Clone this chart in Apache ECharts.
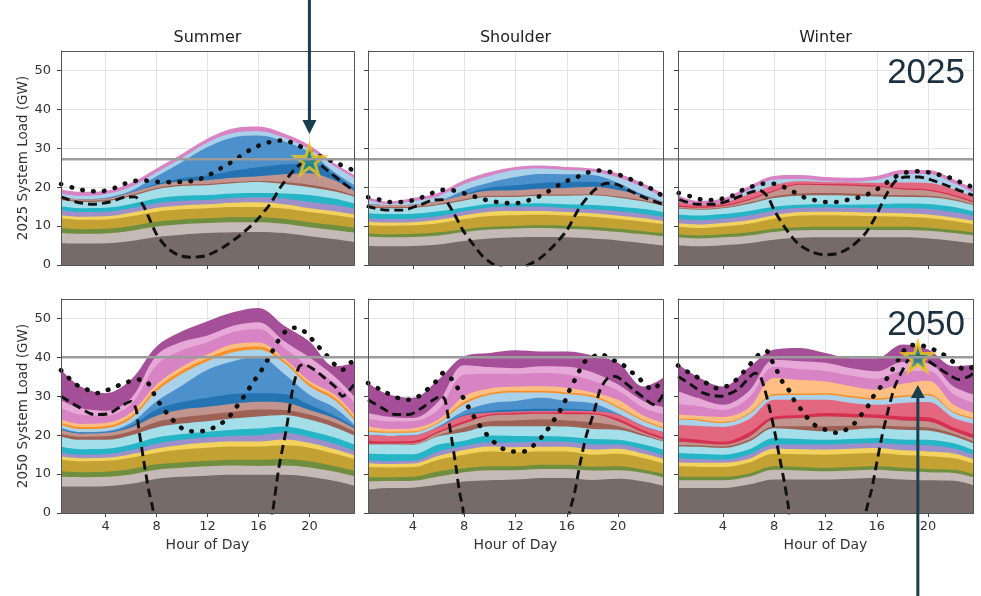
<!DOCTYPE html>
<html><head><meta charset="utf-8">
<script src="https://cdn.jsdelivr.net/npm/echarts@6/dist/echarts.min.js"></script>
<style>html,body{margin:0;padding:0;background:#fff}#c{width:981px;height:596px}</style>
</head><body><div id="c"></div>
<script>
// ---------- data ----------
const hours = [0.5, 2, 4, 6, 8, 10, 12, 14, 16, 18, 20, 22, 23.5];
const xTicks = [4, 8, 12, 16, 20];
const yTicks = [0, 10, 20, 30, 40, 50];
const seasons = ['Summer', 'Shoulder', 'Winter'];
const years = ['2025', '2050'];
const yNames = ['2025 System Load (GW)', '2050 System Load (GW)'];
const peakLevels = [27.2, 40.0];
const starPoints = [[20, 27.0], [19.2, 40.1]];
const layerNames = ['Base', 'Base 2', 'Green', 'Gold', 'Yellow', 'Purple', 'Teal', 'Light cyan', 'Brown', 'Light brown',
  'Red', 'Light red', 'Dark blue', 'Blue', 'Light blue', 'Orange', 'Light orange', 'Pink', 'Light pink', 'Magenta'];
const layerColors = ['#776b69', '#c5bab6', '#6f8f3f', '#c3a233', '#f3d35e', '#9d8fca', '#25b5c6', '#a4dfe9', '#9e6156', '#c1958d',
  '#d63150', '#e3687f', '#2474b4', '#4c91cb', '#a9d1ea', '#fb8f24', '#ffbe82', '#d883c4', '#e6a8d6', '#a64f99'];

// cumulative layer tops (GW) at each hour, bottom layer first; null = layer absent
const summer2025 = [
  [5.6,5.5,5.6,6.2,7.2,7.8,8.2,8.4,8.5,8.2,7.4,6.6,5.9],
  [8.2,8.0,8.1,8.8,9.9,10.5,10.8,11.0,11.0,10.6,9.7,8.9,8.3],
  [9.5,9.2,9.3,10.0,11.1,11.7,12.0,12.3,12.3,11.9,11.0,10.2,9.6],
  [12.0,11.6,11.7,12.5,13.7,14.3,14.6,14.9,14.9,14.5,13.6,12.8,12.1],
  [12.8,12.4,12.5,13.4,14.7,15.3,15.6,16.0,16.1,15.6,14.6,13.8,13.0],
  [14.1,13.6,13.7,14.6,15.9,16.5,16.7,17.2,17.4,17.1,16.2,15.4,14.5],
  [15.1,14.6,14.7,15.7,17.1,17.8,18.0,18.4,18.5,18.4,18.0,17.0,15.8],
  [16.7,16.2,16.4,17.7,19.5,20.3,20.5,21.0,21.3,20.8,20.0,18.9,17.6],
  [17.0,16.5,16.7,18.0,19.8,20.6,20.8,21.3,21.6,21.3,20.6,19.4,17.9],
  [17.4,16.9,17.1,18.6,20.5,21.5,21.8,22.4,22.8,23.3,23.6,21.7,19.1],
  null, null,
  [17.4,16.9,17.1,18.6,20.8,22.3,23.0,24.2,25.1,25.8,26.1,23.2,19.6],
  [17.4,16.9,17.3,19.1,22.8,26.5,30.3,32.8,33.3,31.8,29.0,23.8,20.6],
  [18.4,17.8,18.2,20.1,23.8,27.5,31.5,33.9,34.4,32.8,29.8,25.3,22.4],
  null, null,
  [19.4,18.8,19.1,21.1,24.8,28.5,32.5,35.1,35.6,33.8,30.8,26.1,23.2],
  null, null
];
const shoulder2025 = [
  [4.9,4.8,4.9,5.3,6.2,6.8,7.1,7.2,7.1,6.8,6.3,5.6,5.0],
  [7.3,7.1,7.2,7.6,8.5,9.1,9.4,9.5,9.3,9.0,8.5,7.9,7.4],
  [8.1,7.9,8.0,8.4,9.2,9.8,10.0,10.2,10.1,9.8,9.3,8.7,8.2],
  [10.3,10.1,10.2,10.7,11.8,12.6,12.8,12.9,12.7,12.4,11.8,11.1,10.5],
  [11.1,10.9,11.0,11.6,12.8,13.7,13.9,13.9,13.6,13.3,12.7,12.0,11.3],
  [12.0,11.8,11.9,12.5,13.8,14.8,15.0,15.0,14.6,14.3,13.8,13.1,12.3],
  [13.3,13.1,13.2,13.8,14.8,15.7,15.8,15.9,15.6,15.4,15.0,14.4,13.6],
  [14.8,14.6,14.7,15.4,16.6,17.5,17.5,17.8,17.8,17.9,17.3,16.3,15.2],
  [15.1,14.9,15.0,15.7,16.9,17.8,17.8,18.1,18.1,18.2,17.6,16.6,15.5],
  [15.6,15.4,15.5,16.4,18.0,19.1,19.2,19.6,19.8,20.1,19.3,17.7,16.2],
  null, null,
  [15.6,15.4,15.5,16.4,18.2,19.9,20.5,21.1,21.3,21.4,20.1,18.0,16.2],
  [15.6,15.4,15.5,16.4,19.2,21.2,22.6,23.4,23.3,23.1,21.1,18.0,16.2],
  [16.7,15.7,16.4,17.7,20.8,22.9,24.4,24.8,24.4,24.0,22.5,19.9,17.4],
  null, null,
  [17.5,16.3,17.2,18.6,21.8,23.9,25.2,25.6,25.2,24.8,23.5,20.9,18.4],
  null, null
];
const winter2025 = [
  [5.1,4.8,5.1,5.6,6.5,7.0,7.1,7.1,7.1,7.1,6.8,6.2,5.6],
  [7.1,6.8,7.1,7.6,8.5,8.9,9.0,9.0,9.0,9.0,8.8,8.2,7.6],
  [7.9,7.6,7.9,8.4,9.3,9.7,9.8,9.8,9.8,9.8,9.6,9.0,8.4],
  [9.8,9.5,9.9,10.6,11.9,12.7,12.8,12.7,12.5,12.4,12.1,11.3,10.5],
  [10.7,10.4,10.8,11.5,12.8,13.6,13.7,13.6,13.4,13.3,13.0,12.2,11.4],
  [11.8,11.5,11.9,12.7,14.0,14.7,14.8,14.7,14.6,14.6,14.4,13.6,12.6],
  [13.0,12.7,13.1,13.9,15.0,15.5,15.6,15.5,15.6,15.8,15.7,14.9,13.8],
  [14.5,14.2,14.6,15.7,17.2,17.8,17.9,17.8,17.6,17.5,17.4,16.6,15.4],
  [14.7,14.4,14.8,16.0,17.7,18.4,18.5,18.4,18.1,17.9,17.8,16.9,15.6],
  [15.0,14.7,15.1,16.6,18.9,20.6,20.5,20.4,20.1,19.4,19.1,17.7,16.1],
  [15.3,15.0,15.4,16.9,19.2,20.9,20.8,20.7,20.4,19.7,19.4,18.0,16.4],
  [16.3,15.5,16.0,18.1,20.5,21.5,21.3,21.2,21.1,21.2,21.1,19.5,17.6],
  null, null,
  [16.9,15.5,16.1,19.2,21.9,22.1,21.6,21.4,21.9,23.4,23.4,21.0,18.7],
  null, null,
  [17.9,16.5,17.1,20.2,22.9,23.1,22.6,22.4,22.9,24.4,24.4,22.0,19.7],
  null, null
];
const summer2050 = [
  [6.8,6.8,6.9,7.5,8.8,9.3,9.6,9.8,9.8,9.8,9.3,8.2,7.0],
  [9.3,9.2,9.3,9.9,11.1,11.6,12.0,12.2,12.1,12.2,11.7,10.6,9.5],
  [10.7,10.5,10.6,11.3,12.5,13.0,13.4,13.7,13.7,13.9,13.3,12.0,10.9],
  [13.7,13.3,13.4,14.2,15.5,16.3,16.8,17.1,17.1,17.4,16.8,15.2,13.9],
  [14.5,14.1,14.2,15.1,16.6,17.5,18.1,18.4,18.4,18.9,18.0,16.4,14.9],
  [15.5,15.0,15.1,16.1,17.8,18.8,19.4,19.8,20.0,20.6,19.5,17.8,16.0],
  [17.0,16.4,16.5,17.6,19.4,20.3,20.9,21.4,21.7,22.2,21.1,19.4,17.6],
  [19.6,18.8,18.8,20.0,22.0,23.0,23.6,24.3,24.8,25.2,24.0,22.0,20.0],
  [20.4,19.6,19.7,21.0,23.4,24.6,25.3,26.0,26.6,26.5,25.3,23.2,21.0],
  [21.3,20.4,20.6,22.0,25.0,26.6,27.3,28.1,28.6,28.4,26.5,24.3,21.8],
  null, null,
  [21.6,20.6,20.8,22.5,26.6,28.5,29.6,30.6,30.8,30.6,27.8,25.0,22.2],
  [21.9,20.8,21.0,23.2,28.7,32.8,36.8,39.0,40.2,35.8,30.4,27.0,22.8],
  [22.7,21.6,21.8,24.3,31.3,35.8,39.0,41.3,42.0,38.6,32.6,29.0,24.0],
  [23.2,22.1,22.3,24.9,32.0,36.6,39.8,42.2,42.8,39.2,33.2,29.6,24.6],
  [24.0,22.9,23.1,25.8,33.0,37.6,40.8,43.4,43.8,39.8,34.0,30.4,25.4],
  [27.0,25.3,25.0,28.0,38.0,41.8,43.9,46.5,47.3,42.5,37.5,33.5,28.5],
  [29.0,27.0,26.3,29.5,40.5,44.0,45.6,48.1,49.0,44.2,40.0,35.0,30.0],
  [36.8,32.6,30.8,34.3,42.8,46.7,49.3,51.6,52.7,48.2,44.1,37.7,38.5]
];
const shoulder2050 = [
  [6.0,6.4,6.5,7.3,8.1,8.4,8.6,9.0,9.0,8.5,8.8,8.1,7.0],
  [8.1,8.2,8.3,9.4,10.5,11.0,11.0,11.3,11.3,10.9,11.0,10.3,9.2],
  [9.2,9.2,9.3,10.7,11.5,12.0,12.0,12.4,12.4,11.9,12.0,11.1,10.1],
  [11.8,11.7,11.8,13.7,15.0,15.8,15.6,15.8,15.8,15.0,15.2,14.1,12.8],
  [12.8,12.6,12.7,14.7,16.2,17.1,16.9,17.0,17.0,16.3,16.5,15.2,13.9],
  [13.5,13.3,13.4,15.8,17.2,18.2,18.1,18.4,18.3,17.6,17.6,16.3,14.8],
  [15.2,15.1,15.1,17.6,18.6,19.9,19.8,19.7,19.6,19.0,18.8,17.6,16.3],
  [17.6,17.6,17.5,19.7,20.8,22.3,22.3,22.3,22.2,21.6,21.4,19.8,18.4],
  [17.6,17.6,17.6,20.0,22.0,23.6,23.8,24.0,23.8,23.3,22.3,20.2,18.6],
  [17.8,17.8,17.9,20.6,23.0,25.0,25.3,25.5,25.4,25.4,23.6,20.6,18.9],
  [18.6,18.4,18.5,21.0,23.6,25.3,25.7,25.8,25.8,25.7,24.2,21.2,19.5],
  [20.1,19.8,19.9,22.1,25.0,25.8,26.1,26.2,26.3,26.2,25.3,22.3,20.8],
  [20.1,19.8,19.9,22.1,25.2,26.2,26.6,26.8,26.8,26.4,25.3,22.3,20.8],
  [20.1,19.8,19.9,22.3,26.2,28.2,28.8,29.6,28.8,28.2,25.6,22.3,20.8],
  [20.9,20.6,20.7,23.1,28.0,30.4,31.0,31.0,30.6,29.8,27.0,23.6,21.8],
  [21.2,20.9,21.0,23.4,28.6,30.8,31.4,31.4,31.0,30.2,27.4,23.9,22.1],
  [22.2,21.6,21.8,24.0,30.0,32.0,32.5,32.6,32.2,31.0,29.1,25.0,23.2],
  [24.2,23.5,23.6,26.6,35.5,35.8,35.8,36.0,35.6,34.0,31.5,27.0,25.5],
  [25.7,24.8,24.4,28.7,38.0,37.5,37.2,37.7,37.6,36.2,33.0,28.7,27.2],
  [33.4,30.6,29.6,34.3,40.3,41.1,41.8,41.5,41.5,40.5,38.6,32.5,34.7]
];
const winter2050 = [
  [6.4,6.4,6.4,7.3,8.6,8.6,8.6,8.8,9.0,8.6,8.4,8.3,7.2],
  [8.4,8.4,8.4,9.3,11.1,10.9,10.7,10.9,11.1,10.7,10.5,10.3,9.2],
  [9.4,9.3,9.3,10.1,12.0,11.8,11.6,11.8,12.0,11.6,11.3,11.1,10.0],
  [12.0,11.9,11.8,12.9,15.2,15.1,15.0,15.2,15.4,14.9,14.6,14.1,12.8],
  [13.0,12.9,12.9,13.9,16.5,16.4,16.3,16.5,16.7,16.1,15.8,15.3,13.9],
  [14.1,13.9,13.7,15.0,17.6,17.6,17.6,17.8,18.0,17.6,17.4,16.6,15.0],
  [15.4,15.2,15.0,16.3,19.3,19.0,18.8,19.0,19.3,18.9,18.8,17.9,16.2],
  [17.1,17.0,16.7,18.3,21.8,21.4,21.0,21.4,21.8,21.4,21.2,19.7,17.9],
  [17.5,17.4,17.1,18.8,22.3,22.3,22.3,22.4,22.5,22.2,22.0,20.4,18.5],
  [18.4,18.0,17.6,19.5,24.0,24.4,24.8,24.6,24.4,23.8,23.5,21.0,19.2],
  [19.3,18.9,18.3,20.6,24.8,25.2,25.7,25.5,25.3,24.8,24.6,22.0,20.3],
  [22.7,22.4,22.1,24.0,29.1,29.1,29.1,28.3,27.8,28.3,28.5,24.4,23.0],
  null, null,
  [24.0,23.8,23.1,25.3,30.2,30.3,30.4,29.7,29.1,29.8,30.2,25.7,24.2],
  [24.3,24.1,23.4,25.6,30.6,30.7,30.8,30.1,29.5,30.2,30.6,26.0,24.5],
  [25.3,25.0,24.7,27.0,34.7,34.2,33.8,32.6,31.7,33.2,34.0,27.8,25.8],
  [28.0,27.5,26.5,29.5,37.5,37.0,36.5,35.3,34.5,36.5,36.5,30.5,28.3],
  [31.3,29.6,27.8,31.3,39.4,39.0,38.6,37.2,36.4,38.8,38.5,32.5,30.5],
  [38.3,35.1,32.5,37.3,42.0,42.4,41.1,39.8,39.8,43.3,42.0,37.7,38.1]
];

// dashed (net load) and dotted (total load) curves, [hour, GW]
const summer2025Net = [[0.5,17.5],[1.7,16.2],[3.0,15.6],[4.3,16.2],[5.5,17.4],[6.3,17.5],[6.9,15.6],[7.4,12.2],[8.0,7.9],[8.8,4.5],[9.8,2.4],[10.8,2.0],[11.9,2.4],[13.2,4.5],[14.5,7.5],[15.8,11.3],[16.9,15.6],[17.9,20.8],[19.0,25.1],[20.0,27.2],[20.8,25.9],[21.8,23.3],[22.6,21.2],[23.5,19.1]];
const summer2025Total = [[0.5,20.8],[1.5,19.8],[2.5,19.1],[3.5,18.9],[4.7,19.8],[5.5,20.9],[6.3,21.6],[7.0,21.7],[8.0,21.4],[9.0,21.3],[10.0,21.4],[11.0,21.7],[12.0,22.9],[12.9,24.6],[13.7,26.1],[14.5,27.8],[15.3,29.5],[16.1,30.8],[16.9,31.6],[17.8,32.0],[18.5,31.6],[19.2,30.6],[20.0,29.3],[20.8,28.0],[21.6,26.9],[22.4,25.8],[23.5,24.3]];
const shoulder2025Net = [[0.4,15.1],[1.9,14.1],[3.2,14.1],[4.5,15.4],[5.5,16.6],[6.4,16.8],[7.2,13.2],[7.9,8.9],[8.65,5.5],[9.4,2.4],[10.2,0.3],[11.0,-0.8],[12.0,-1.2],[12.8,-0.3],[13.9,1.7],[14.9,4.7],[16.0,8.9],[17.0,14.8],[18.1,19.1],[19.1,21.0],[19.9,20.7],[20.9,19.1],[22.0,17.4],[23.5,15.6]];
const shoulder2025Total = [[0.5,17.4],[1.4,16.8],[2.25,16.2],[3.1,16.2],[3.95,16.6],[4.7,17.4],[5.5,18.5],[6.3,19.3],[7.1,19.2],[7.9,18.5],[8.8,17.6],[9.6,16.8],[10.5,16.2],[11.3,15.9],[12.1,15.9],[12.9,16.5],[13.75,17.5],[14.5,18.8],[15.3,20.4],[16.0,21.6],[16.8,22.6],[17.5,23.6],[18.3,24.3],[19.1,24.1],[19.9,23.4],[20.7,22.4],[21.5,21.3],[22.3,20.1],[23.0,18.8],[23.5,17.6]];
const winter2025Net = [[0.6,16.8],[2.0,15.6],[3.3,15.6],[4.6,16.7],[5.9,18.4],[6.85,19.2],[7.5,17.5],[8.0,14.1],[8.8,9.8],[9.85,5.5],[10.9,3.4],[11.95,2.6],[13.0,3.0],[14.0,4.7],[15.1,8.1],[15.9,12.4],[16.65,17.5],[17.4,21.4],[18.2,22.6],[19.3,22.6],[20.3,21.8],[21.4,20.5],[22.4,19.2],[23.5,17.9]];
const winter2025Total = [[0.55,18.5],[1.5,17.6],[2.4,16.8],[3.2,16.7],[4.0,17.1],[4.8,17.9],[5.5,19.2],[6.3,20.2],[7.1,20.9],[7.9,20.9],[8.7,20.1],[9.5,18.8],[10.25,17.5],[11.1,16.7],[11.95,16.2],[12.8,16.2],[13.5,16.6],[14.3,17.1],[15.1,17.9],[15.9,19.2],[16.65,20.9],[17.4,22.6],[18.1,23.6],[18.8,24.1],[19.5,24.1],[20.3,23.6],[21.1,23.0],[21.9,22.2],[22.7,21.0],[23.5,20.0]];
const summer2050Net = [[0.5,30.0],[1.8,27.4],[3.1,25.3],[4.2,25.5],[5.2,27.4],[6.0,28.7],[6.4,26.6],[6.6,21.8],[7.0,13.3],[7.4,5.6],[7.7,1.3],[7.9,-3],[16.9,-3],[17.1,0],[17.6,11.6],[18.2,21.8],[18.7,32.1],[19.2,37.7],[19.6,38.1],[20.4,36.8],[21.2,34.7],[22.0,32.5],[22.6,30.0],[23.5,33.0]];
const summer2050Total = [[0.5,36.7],[1.7,33.0],[2.5,31.8],[3.3,30.8],[4.0,31.4],[4.8,32.5],[5.6,33.5],[6.4,34.3],[7.2,33.9],[7.6,31.8],[8.0,29.4],[8.5,27.0],[9.0,24.9],[9.6,22.9],[10.3,21.2],[11.2,21.0],[11.9,21.2],[12.7,22.3],[13.5,24.0],[14.0,26.0],[14.5,28.3],[15.0,30.6],[15.5,33.2],[16.2,36.5],[17.0,41.0],[17.5,44.0],[18.2,46.9],[18.8,47.6],[19.5,46.9],[20.1,45.0],[20.7,42.8],[21.3,40.7],[22.0,38.1],[22.6,36.8],[23.1,38.5],[23.5,38.9]];
const shoulder2050Net = [[0.5,29.1],[1.6,27.0],[2.6,25.3],[3.7,25.3],[4.7,27.0],[5.6,29.1],[6.2,30.1],[6.5,29.1],[6.7,25.7],[6.95,20.6],[7.35,12.1],[7.6,6.1],[7.9,1.0],[8.1,-3],[16.1,-3],[16.2,0.1],[16.6,5.1],[17.0,12.1],[17.5,19.7],[18.1,25.7],[18.6,31.7],[19.2,34.7],[19.8,35.1],[20.4,33.9],[21.2,31.7],[22.0,29.6],[22.5,28.3],[22.9,27.8],[23.5,30.4]];
const shoulder2050Total = [[0.5,33.4],[1.3,32.0],[2.0,30.8],[2.8,29.6],[3.6,29.1],[4.4,29.9],[5.1,31.7],[5.8,33.8],[6.4,36.0],[7.0,34.5],[7.5,32.1],[8.3,27.4],[9.0,23.5],[9.65,20.6],[10.3,18.3],[10.9,16.7],[11.7,15.8],[12.6,15.8],[13.3,17.1],[13.9,19.0],[14.4,21.0],[14.9,23.4],[15.4,25.9],[15.8,28.3],[16.1,30.8],[16.5,33.4],[16.9,36.0],[17.3,38.6],[17.9,39.8],[18.6,40.9],[19.5,39.4],[20.2,38.6],[20.8,36.8],[21.5,35.1],[22.1,33.0],[22.7,31.7],[23.5,34.7]];
const winter2050Net = [[0.5,35.1],[1.5,33.0],[2.5,30.8],[3.8,30.0],[5.15,31.7],[5.9,34.3],[6.5,35.9],[6.85,35.5],[7.2,32.5],[7.6,27.4],[8.0,21.5],[8.4,14.6],[8.8,7.8],[9.1,1.8],[9.3,-3],[15.0,-3],[15.2,1.0],[15.6,6.1],[16.0,12.9],[16.4,19.7],[16.9,26.6],[17.4,32.5],[18.1,37.3],[18.6,40.1],[19.3,40.6],[20.05,39.0],[20.8,37.3],[21.6,35.6],[22.4,34.3],[23.2,35.1],[23.5,35.9]];
const winter2050Total = [[0.5,37.9],[1.3,36.2],[2.1,34.7],[2.8,33.2],[3.5,32.1],[4.3,32.6],[5.0,34.1],[5.6,36.2],[6.2,38.5],[6.8,40.7],[7.4,41.6],[7.9,38.6],[8.3,36.0],[8.7,33.4],[9.2,31.3],[9.6,28.7],[10.1,26.6],[10.6,24.4],[11.3,22.3],[12.1,21.3],[12.9,20.6],[13.6,21.4],[14.25,23.0],[14.8,25.3],[15.3,27.4],[15.7,29.8],[16.3,32.4],[16.9,35.1],[17.4,37.9],[17.96,40.9],[18.5,43.0],[19.3,43.2],[20.05,42.4],[20.8,41.5],[21.6,39.8],[22.3,37.9],[22.9,36.8],[23.5,37.5]];

// ---------- layout ----------
const gridLefts = [61, 368, 678];
const gridWidths = [293, 295, 295];
const gridTops = [51, 299];
const gridHeight = 214;
const FONT = 'DejaVu Sans';

const panelLayers = [summer2025, shoulder2025, winter2025, summer2050, shoulder2050, winter2050];
const panelNet = [summer2025Net, shoulder2025Net, winter2025Net, summer2050Net, shoulder2050Net, winter2050Net];
const panelTotal = [summer2025Total, shoulder2025Total, winter2025Total, summer2050Total, shoulder2050Total, winter2050Total];

const grids = [], xAxes = [], yAxes = [], series = [];
for (let p = 0; p < 6; p++) {
  const row = Math.floor(p / 3), col = p % 3;
  grids.push({left: gridLefts[col], top: gridTops[row], width: gridWidths[col], height: gridHeight, containLabel: false});
  xAxes.push({
    type: 'value', gridIndex: p, min: 0.5, max: 23.5,
    axisLine: {show: true, onZero: false, lineStyle: {color: '#444', width: 1}},
    axisTick: {show: true, customValues: xTicks, length: 4, lineStyle: {color: '#444'}},
    axisLabel: {show: row === 1, customValues: xTicks, margin: 7, fontSize: 13, color: '#333', fontFamily: FONT},
    splitLine: {show: false},
    name: row === 1 ? 'Hour of Day' : '', nameLocation: 'middle', nameGap: 25,
    nameTextStyle: {fontSize: 14, color: '#333', fontFamily: FONT}
  });
  yAxes.push({
    type: 'value', gridIndex: p, min: 0, max: 55, interval: 10,
    axisLine: {show: true, lineStyle: {color: '#444', width: 1}},
    axisTick: {show: true, customValues: yTicks, length: 4, lineStyle: {color: '#444'}},
    axisLabel: {show: col === 0, customValues: yTicks, margin: 10, fontSize: 13, color: '#333', fontFamily: FONT},
    splitLine: {show: true, lineStyle: {color: '#e3e3e3', width: 1}},
    name: col === 0 ? yNames[row] : '', nameLocation: 'middle', nameGap: 31,
    nameTextStyle: {fontSize: 13.5, color: '#333', fontFamily: FONT}
  });
  // vertical grid lines (under the areas)
  series.push({
    type: 'line', xAxisIndex: p, yAxisIndex: p, data: [], z: 1, silent: true,
    markLine: {silent: true, z: 1, symbol: 'none', label: {show: false}, animation: false,
      lineStyle: {color: '#e3e3e3', width: 1, type: 'solid'},
      data: xTicks.map(v => ({xAxis: v}))}
  });
  const layers = panelLayers[p];
  for (let k = layers.length - 1; k >= 0; k--) {
    if (!layers[k]) continue;
    series.push({
      name: layerNames[k], type: 'line', xAxisIndex: p, yAxisIndex: p, z: 2, silent: true,
      data: hours.map((h, i) => [h, layers[k][i]]),
      smooth: 0.35, showSymbol: false, lineStyle: {width: 0},
      areaStyle: {color: layerColors[k], opacity: 1}
    });
  }
  series.push({
    type: 'line', xAxisIndex: p, yAxisIndex: p, z: 4, silent: true, data: panelNet[p],
    smooth: 0.25, showSymbol: false, clip: true,
    lineStyle: {color: '#111', width: 2.9, type: [9, 5]}
  });
  series.push({
    type: 'line', xAxisIndex: p, yAxisIndex: p, z: 4, silent: true, data: panelTotal[p],
    smooth: 0.3, showSymbol: false, clip: true,
    lineStyle: {color: '#111', width: 4.6, type: [0.5, 10.5], cap: 'round'}
  });
}
const starPath = 'path://M50,0 L61.8,35.1 L98.9,35.1 L69.1,56.7 L80.3,91.9 L50,70 L19.7,91.9 L30.9,56.7 L1.1,35.1 L38.2,35.1 Z';
[[0, starPoints[0]], [5, starPoints[1]]].forEach(([p, pt]) => {
  series.push({
    type: 'scatter', xAxisIndex: p, yAxisIndex: p, z: 8, silent: true, data: [pt],
    symbol: starPath, symbolSize: 29,
    itemStyle: {color: '#1f8a84', borderColor: '#f3c51d', borderWidth: 3}
  });
});

const chart = echarts.init(document.getElementById('c'), null, {renderer: 'canvas'});
chart.setOption({animation: false, backgroundColor: '#fff', grid: grids, xAxis: xAxes, yAxis: yAxes, series: series});

// ---------- annotations ----------
const gr = [];
const px = (g, pt) => chart.convertToPixel({gridIndex: g}, pt);
for (let p = 0; p < 6; p++) {
  const row = Math.floor(p / 3), col = p % 3;
  gr.push({type: 'rect', z: 50, silent: true,
    shape: {x: gridLefts[col] + 0.5, y: gridTops[row] + 0.5, width: gridWidths[col], height: gridHeight},
    style: {fill: 'none', stroke: '#555', lineWidth: 1}});
}
for (let r = 0; r < 2; r++) {
  const a = px(r * 3, [0.5, peakLevels[r]]), b = px(r * 3 + 2, [23.5, peakLevels[r]]);
  gr.push({type: 'line', z: 45, silent: true, shape: {x1: a[0], y1: a[1], x2: b[0], y2: b[1]},
    style: {stroke: '#9b9b9b', lineWidth: 2.5}});
}
for (let c = 0; c < 3; c++) {
  gr.push({type: 'text', z: 60, x: gridLefts[c] + gridWidths[c] / 2, y: 38,
    style: {text: seasons[c], fontSize: 16, fontFamily: FONT, fill: '#222', align: 'center', verticalAlign: 'middle'}});
}
for (let r = 0; r < 2; r++) {
  gr.push({type: 'text', z: 60, x: gridLefts[2] + gridWidths[2] - 8, y: gridTops[r] + (r === 0 ? 22 : 26),
    style: {text: years[r], fontSize: 35, fontFamily: 'Liberation Sans', fill: '#1b3040', align: 'right', verticalAlign: 'middle'}});
}
const ARROW = '#173f4f';
const s1 = px(0, starPoints[0]);
gr.push({type: 'line', z: 70, silent: true, shape: {x1: s1[0], y1: 0, x2: s1[0], y2: s1[1] - 38}, style: {stroke: ARROW, lineWidth: 3}});
gr.push({type: 'polygon', z: 70, silent: true, shape: {points: [[s1[0] - 7, s1[1] - 40], [s1[0] + 7, s1[1] - 40], [s1[0], s1[1] - 26]]}, style: {fill: ARROW}});
const s2 = px(5, starPoints[1]);
gr.push({type: 'line', z: 70, silent: true, shape: {x1: s2[0], y1: s2[1] + 39, x2: s2[0], y2: 596}, style: {stroke: ARROW, lineWidth: 3}});
gr.push({type: 'polygon', z: 70, silent: true, shape: {points: [[s2[0] - 7, s2[1] + 41], [s2[0] + 7, s2[1] + 41], [s2[0], s2[1] + 28]]}, style: {fill: ARROW}});
chart.setOption({graphic: gr});
</script>
</body></html>
